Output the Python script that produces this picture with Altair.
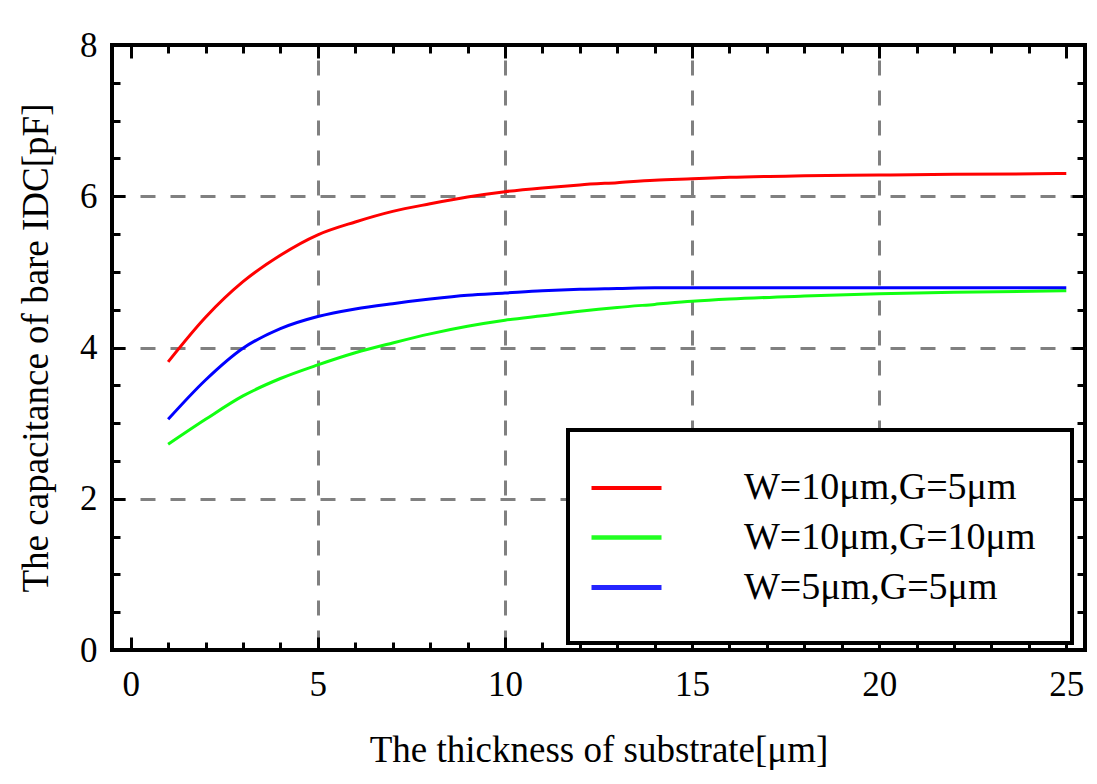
import altair as alt
import pandas as pd

# ---- data ----
thickness = [1, 2, 3, 4, 5, 6, 7, 8, 9, 10, 11, 12, 13, 14, 15, 16, 18, 20, 22, 25]
cap_w10_g5 = [3.81, 4.40, 4.87, 5.22, 5.49, 5.66, 5.80, 5.90, 5.99, 6.06, 6.11, 6.15, 6.18, 6.21, 6.23, 6.25, 6.27, 6.28, 6.29, 6.30]
cap_w10_g10 = [2.72, 3.05, 3.36, 3.59, 3.77, 3.93, 4.06, 4.18, 4.28, 4.36, 4.42, 4.48, 4.53, 4.57, 4.61, 4.64, 4.68, 4.71, 4.73, 4.75]
cap_w5_g5 = [3.05, 3.57, 3.99, 4.25, 4.41, 4.51, 4.58, 4.64, 4.69, 4.72, 4.75, 4.77, 4.78, 4.79, 4.79, 4.79, 4.79, 4.79, 4.79, 4.79]
series_names = ["W=10μm,G=5μm", "W=10μm,G=10μm", "W=5μm,G=5μm"]
series_colors = ["#ff0000", "#11ff11", "#0000ff"]
legend_stroke_widths = [4, 5, 8]
legend_opacities = [1, 0.85, 0.5]

x_major = [0, 5, 10, 15, 20, 25]
x_minor = list(range(0, 26))
y_major = [0, 2, 4, 6, 8]
y_minor = [0, 0.5, 1, 1.5, 2, 2.5, 3, 3.5, 4, 4.5, 5, 5.5, 6, 6.5, 7, 7.5, 8]
x_grid = [5, 10, 15, 20]
y_grid = [2, 4, 6]

x_title = "The thickness of substrate[μm]"
y_title = "The capacitance of bare IDC[pF]"

rows = []
for name, vals in zip(series_names, [cap_w10_g5, cap_w10_g10, cap_w5_g5]):
    for t, c in zip(thickness, vals):
        rows.append({"t": t, "c": c, "series": name})
df = pd.DataFrame(rows)

W, H = 973, 605
FONT = "Liberation Serif"
xs = alt.Scale(domain=[-0.5, 25.5], nice=False, zero=False)
ys = alt.Scale(domain=[0, 8], nice=False, zero=False)
color_scale = alt.Scale(domain=series_names, range=series_colors)


def bare_axis(**kw):
    base = dict(labels=False, domain=False, grid=False, title=None, ticks=False)
    base.update(kw)
    return alt.Axis(**base)


def helper_layer(x_axis, y_axis):
    return alt.Chart(df).mark_point(opacity=0).encode(
        x=alt.X("t:Q", scale=xs, axis=x_axis),
        y=alt.Y("c:Q", scale=ys, axis=y_axis),
    )


legend_def = alt.Legend(
    orient="none", legendX=456, legendY=385, title=None,
    symbolType="M-1.75,0H1.75", symbolSize=1600, symbolStrokeWidth=5,
    labelFont=FONT, labelFontSize=38, labelColor="#000",
    labelLimit=600, labelOffset=95, padding=36, rowPadding=8,
    strokeColor="#000", fillColor="#ffffff",
)

grid_layer = helper_layer(
    bare_axis(orient="bottom", values=x_grid, grid=True, gridColor="#808080",
              gridWidth=3, gridDash=[15, 15], gridDashOffset=15, gridOpacity=1),
    bare_axis(orient="left", values=y_grid, grid=True, gridColor="#808080",
              gridWidth=3, gridDash=[15, 15], gridDashOffset=2, gridOpacity=1),
)

legend_layer = alt.Chart(df).transform_filter("false").mark_line().encode(
    x=alt.X("t:Q", scale=xs, axis=bare_axis()),
    y=alt.Y("c:Q", scale=ys, axis=bare_axis()),
    color=alt.Color("series:N", sort=series_names, scale=color_scale, legend=legend_def),
    strokeWidth=alt.StrokeWidth("series:N", sort=series_names,
                                scale=alt.Scale(domain=series_names, range=legend_stroke_widths),
                                legend=legend_def),
    opacity=alt.Opacity("series:N", sort=series_names,
                        scale=alt.Scale(domain=series_names, range=legend_opacities),
                        legend=legend_def),
)

lines = alt.Chart(df).mark_line(strokeWidth=3, interpolate="monotone").encode(
    x=alt.X("t:Q", scale=xs, axis=alt.Axis(
        orient="bottom", values=x_major, ticks=False, domain=False, grid=False,
        labelFont=FONT, labelFontSize=35, labelColor="#000", labelPadding=17,
        title=x_title, titleFont=FONT, titleFontSize=37, titleFontWeight="normal",
        titleColor="#000", titlePadding=30)),
    y=alt.Y("c:Q", scale=ys, axis=alt.Axis(
        orient="left", values=y_major, ticks=False, domain=False, grid=False,
        labelFont=FONT, labelFontSize=35, labelColor="#000", labelPadding=15,
        title=y_title, titleFont=FONT, titleFontSize=37, titleFontWeight="normal",
        titleColor="#000", titlePadding=24)),
    color=alt.Color("series:N", sort=series_names, scale=color_scale, legend=legend_def),
    detail="series:N",
)

major_in_1 = helper_layer(
    bare_axis(orient="top", offset=-H, values=x_major, ticks=True, tickSize=13, tickWidth=3, tickColor="#000"),
    bare_axis(orient="right", offset=-W, values=y_major, ticks=True, tickSize=13, tickWidth=3, tickColor="#000"),
)
minor_in_1 = helper_layer(
    bare_axis(orient="top", offset=-H, values=x_minor, ticks=True, tickSize=8, tickWidth=3, tickColor="#000"),
    bare_axis(orient="right", offset=-W, values=y_minor, ticks=True, tickSize=8, tickWidth=3, tickColor="#000"),
)
major_in_2 = helper_layer(
    bare_axis(orient="bottom", offset=-H, values=x_major, ticks=True, tickSize=13, tickWidth=3, tickColor="#000"),
    bare_axis(orient="left", offset=-W, values=y_major, ticks=True, tickSize=13, tickWidth=3, tickColor="#000"),
)
minor_in_2 = helper_layer(
    bare_axis(orient="bottom", offset=-H, values=x_minor, ticks=True, tickSize=8, tickWidth=3, tickColor="#000"),
    bare_axis(orient="left", offset=-W, values=y_minor, ticks=True, tickSize=8, tickWidth=3, tickColor="#000"),
)

chart = alt.layer(
    grid_layer, legend_layer, lines, major_in_1, minor_in_1, major_in_2, minor_in_2
).resolve_axis(x="independent", y="independent").properties(
    width=W, height=H,
    padding={"left": 112, "top": 45, "right": 12, "bottom": 134},
    autosize=alt.AutoSizeParams(type="none"),
    background="#ffffff",
).configure_view(stroke="#000", strokeWidth=4).configure_legend(strokeWidth=4)

chart.save("out.html", embed_options={"renderer": "svg", "actions": False})
